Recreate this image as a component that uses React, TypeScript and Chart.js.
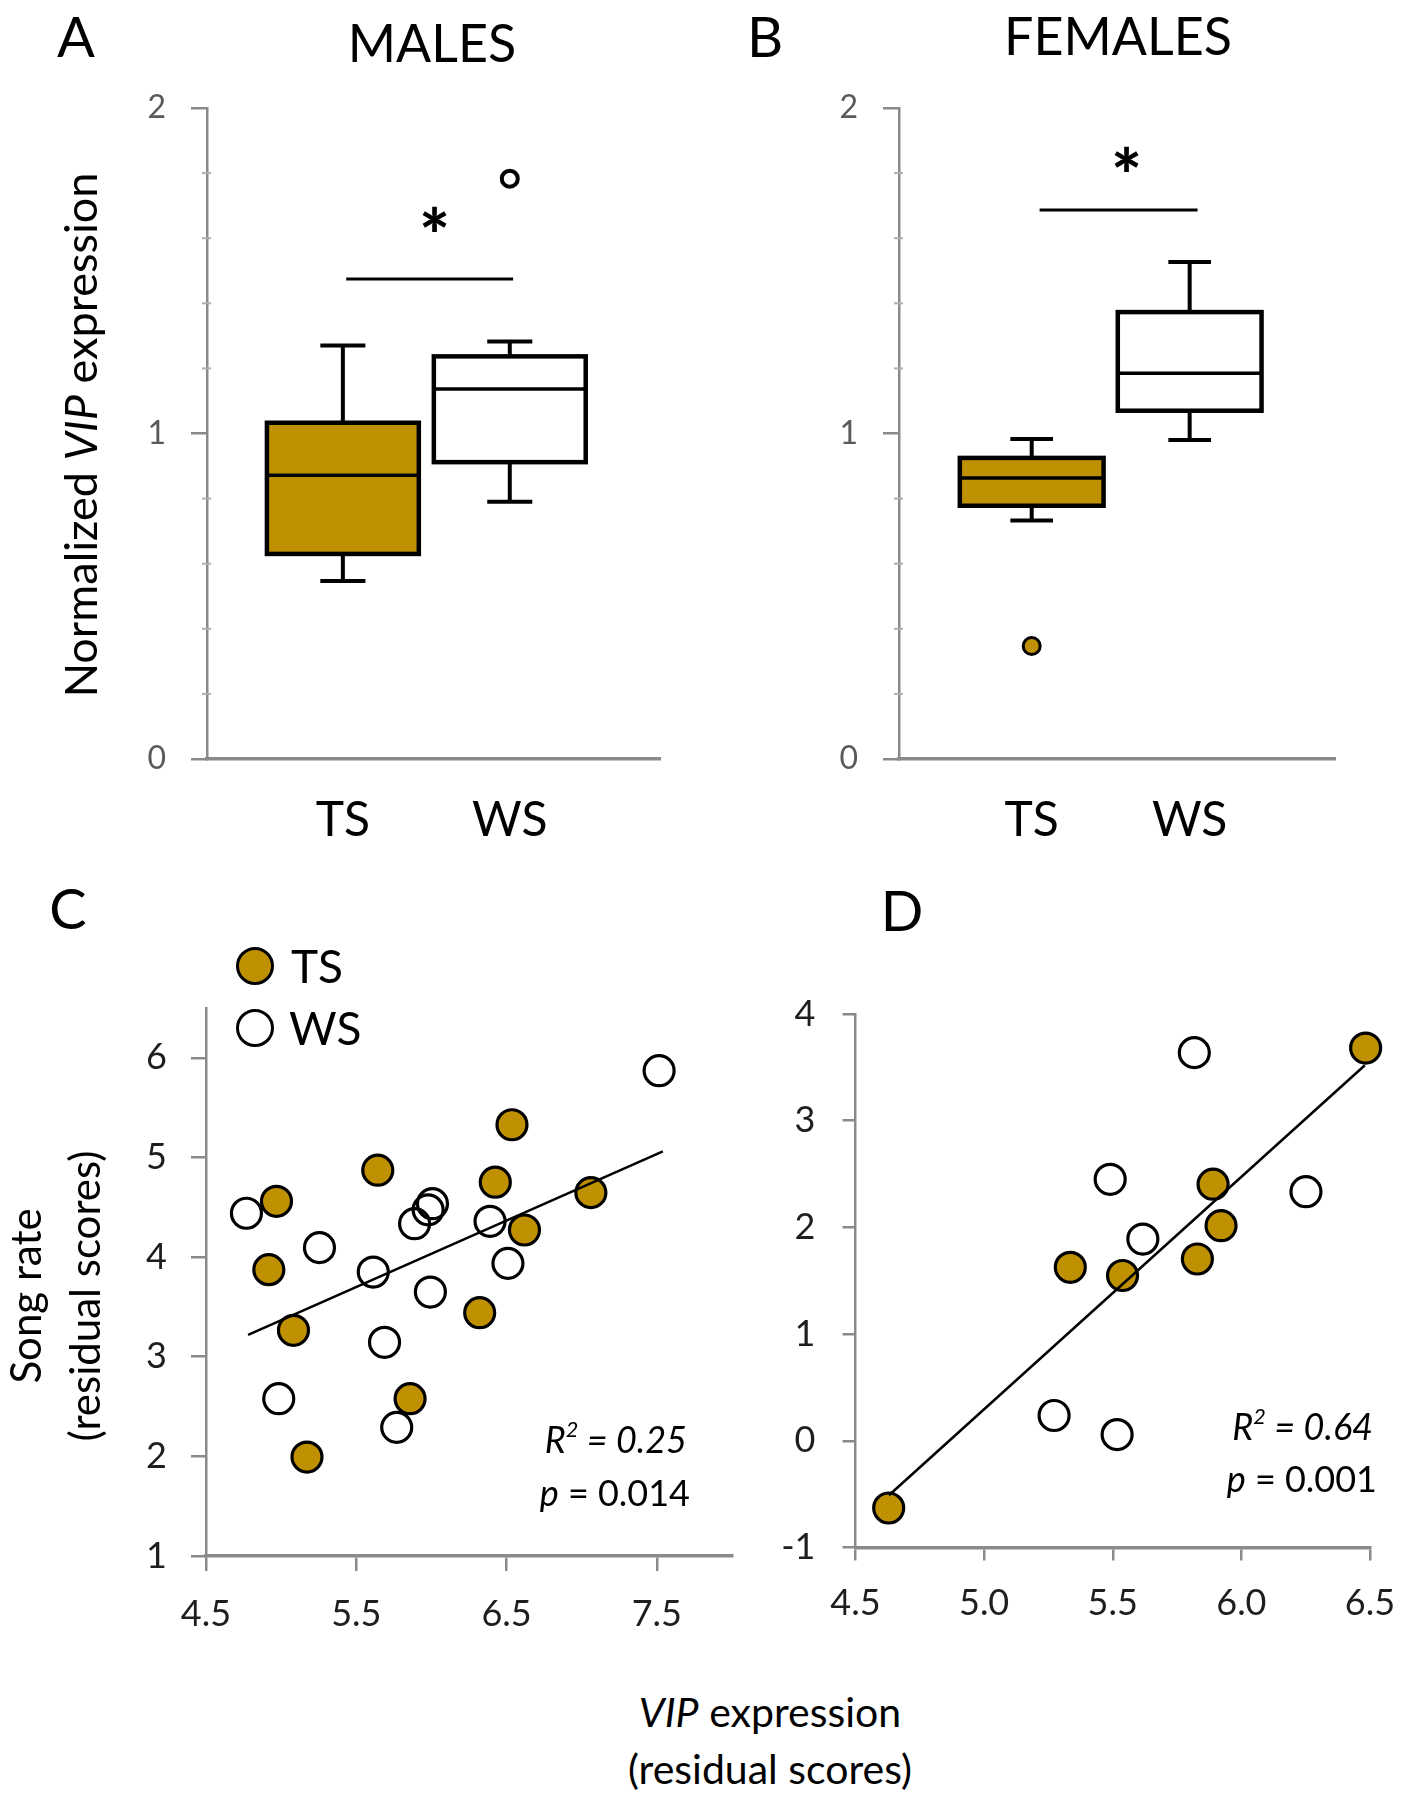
import React, { useEffect, useRef } from "react";
import { Chart, registerables } from "chart.js";

Chart.register(...registerables);

const FONT = "Lato, 'Open Sans', 'DejaVu Sans', sans-serif";
const GOLD = "#BF9000";
const AXIS_GRAY = "#8a8a8a";

// ---------------- Panels A & B : box plots ----------------
const boxCategories = ["TS", "WS"];
const boxYTicks = [0, 1, 2];
const boxMinorTicks = [0.2, 0.4, 0.6, 0.8, 1.2, 1.4, 1.6, 1.8];
// five-number summaries: [lower whisker, Q1, median, Q3, upper whisker]
const malesTS = [0.547, 0.63, 0.872, 1.033, 1.27];
const malesWS = [0.79, 0.912, 1.137, 1.237, 1.283];
const femalesTS = [0.733, 0.778, 0.863, 0.925, 0.983];
const femalesWS = [0.98, 1.07, 1.185, 1.373, 1.527];
// outliers
const malesOutlierTS: number[] = [];
const malesOutlierWS = [1.783];
const femalesOutlierTS = [0.347];
const femalesOutlierWS: number[] = [];
// significance bar: [bar height, star height]
const malesSignif = [1.475, 1.64];
const femalesSignif = [1.687, 1.825];

// ---------------- Panel C : males scatter ----------------
const cTsX = [4.969, 4.918, 5.082, 5.172, 5.643, 5.858, 6.321, 6.425, 6.536, 6.619, 7.061];
const cTsY = [4.56, 3.874, 3.265, 1.993, 4.872, 2.579, 3.442, 4.752, 5.328, 4.272, 4.647];
const cWsX = [4.769, 5.255, 4.984, 5.613, 5.688, 5.769, 5.888, 5.978, 6.007, 5.993, 6.39, 6.509, 7.515];
const cWsY = [4.44, 4.095, 2.579, 3.85, 3.145, 2.291, 4.335, 4.474, 4.536, 3.649, 4.359, 3.937, 5.871];
const cFitX = [4.78, 7.54];
const cFitY = [3.22, 5.06];
const cXTicks = [4.5, 5.5, 6.5, 7.5];
const cYTicks = [1, 2, 3, 4, 5, 6];

// ---------------- Panel D : females scatter ----------------
const dTsX = [4.629, 5.335, 5.538, 5.829, 5.89, 5.921, 6.483];
const dTsY = [-0.63, 1.626, 1.549, 1.704, 2.405, 2.016, 3.681];
const dWsX = [5.817, 5.49, 5.617, 6.251, 5.272, 5.517];
const dWsY = [3.638, 2.451, 1.891, 2.335, 0.237, 0.058];
const dFitX = [4.63, 6.48];
const dFitY = [-0.51, 3.52];
const dXTicks = [4.5, 5.0, 5.5, 6.0, 6.5];
const dYTicks = [-1, 0, 1, 2, 3, 4];

const BOX_HALF = 0.455;
const CAP_HALF = 0.135;

function boxConfig(p: any) {
  const { ts, ws, outTS, outWS, sig, sigX, starX, xMin, xMax, yAxisWidth, xAxisHeight, pad } = p;
  const groups = [ts, ws];
  const fills = [GOLD, "#ffffff"];
  const drawBoxes = {
    id: "drawBoxes",
    beforeDatasetsDraw(chart: any) {
      const ctx = chart.ctx;
      const x = chart.scales.x;
      const y = chart.scales.y;
      ctx.save();
      // minor ticks on the y axis
      ctx.strokeStyle = "#b0b0b0";
      ctx.lineWidth = 2;
      boxMinorTicks.forEach((v) => {
        const py = y.getPixelForValue(v);
        ctx.beginPath();
        ctx.moveTo(x.left - 5, py);
        ctx.lineTo(x.left + 4, py);
        ctx.stroke();
      });
      ctx.strokeStyle = "#000";
      groups.forEach((g: number[], i: number) => {
        const cx = x.getPixelForValue(i);
        const l = x.getPixelForValue(i - BOX_HALF);
        const r = x.getPixelForValue(i + BOX_HALF);
        const cl = x.getPixelForValue(i - CAP_HALF);
        const cr = x.getPixelForValue(i + CAP_HALF);
        const [wl, q1, md, q3, wh] = g.map((v) => y.getPixelForValue(v));
        ctx.lineWidth = 4;
        ctx.beginPath();
        ctx.moveTo(cx, q3); ctx.lineTo(cx, wh);
        ctx.moveTo(cl, wh); ctx.lineTo(cr, wh);
        ctx.moveTo(cx, q1); ctx.lineTo(cx, wl);
        ctx.moveTo(cl, wl); ctx.lineTo(cr, wl);
        ctx.stroke();
        ctx.fillStyle = fills[i];
        ctx.fillRect(l, q3, r - l, q1 - q3);
        ctx.lineWidth = 4.5;
        ctx.strokeRect(l, q3, r - l, q1 - q3);
        ctx.lineWidth = 3.5;
        ctx.beginPath();
        ctx.moveTo(l, md); ctx.lineTo(r, md);
        ctx.stroke();
      });
      const sy = y.getPixelForValue(sig[0]);
      ctx.lineWidth = 3;
      ctx.beginPath();
      ctx.moveTo(x.getPixelForValue(sigX[0]), sy);
      ctx.lineTo(x.getPixelForValue(sigX[1]), sy);
      ctx.stroke();
      ctx.fillStyle = "#000";
      ctx.font = `900 72px ${FONT}`;
      ctx.textAlign = "center";
      ctx.textBaseline = "middle";
      ctx.fillText("*", x.getPixelForValue(starX), y.getPixelForValue(sig[1]) + 14);
      ctx.restore();
    },
  };
  return {
    type: "scatter",
    data: {
      datasets: [
        { data: outTS.map((v: number) => ({ x: 0, y: v })), backgroundColor: GOLD, borderColor: "#000", borderWidth: 3, pointRadius: 8.5, clip: false },
        { data: outWS.map((v: number) => ({ x: 1, y: v })), backgroundColor: "#fff", borderColor: "#000", borderWidth: 4, pointRadius: 8, clip: false },
      ],
    },
    plugins: [drawBoxes],
    options: {
      responsive: false,
      animation: false,
      devicePixelRatio: 1,
      events: [],
      layout: { padding: pad },
      plugins: { legend: { display: false }, tooltip: { enabled: false } },
      scales: {
        x: {
          type: "linear",
          bounds: "data",
          min: xMin,
          max: xMax,
          afterBuildTicks: (s: any) => { s.ticks = boxCategories.map((_, i) => ({ value: i })); },
          ticks: {
            callback: (v: any) => boxCategories[Math.round(Number(v))],
            font: { family: FONT, size: 48 },
            color: "#000",
            padding: 33,
            maxRotation: 0,
            autoSkip: false,
          },
          grid: { display: false, drawTicks: false },
          border: { display: true, color: AXIS_GRAY, width: 3.5 },
          afterFit: (s: any) => { s.height = xAxisHeight; s.paddingLeft = 0; s.paddingRight = 0; },
        },
        y: {
          type: "linear",
          bounds: "data",
          min: 0,
          max: 2,
          afterBuildTicks: (s: any) => { s.ticks = boxYTicks.map((v) => ({ value: v })); },
          ticks: { font: { family: FONT, size: 32 }, color: "#5a5a5a", padding: 25, callback: (v: any) => String(v) },
          grid: { drawOnChartArea: false, drawTicks: true, tickLength: 16, color: AXIS_GRAY, lineWidth: 2.5 },
          border: { display: true, color: AXIS_GRAY, width: 2.5 },
          afterFit: (s: any) => { s.width = yAxisWidth; s.paddingTop = 0; s.paddingBottom = 0; },
        },
      },
    },
  };
}

function scatterConfig(p: any) {
  const { tsX, tsY, wsX, wsY, fitX, fitY, xTicks, yTicks, xMin, xMax, yMin, yMax, yAxisWidth, xAxisHeight, pad, yTickLen, xTickLen, yTickPad, xTickPad } = p;
  return {
    type: "scatter",
    data: {
      datasets: [
        {
          data: fitX.map((v: number, i: number) => ({ x: v, y: fitY[i] })),
          showLine: true,
          borderColor: "#000",
          borderWidth: 2.5,
          pointRadius: 0,
          fill: false,
          clip: false,
        },
        {
          data: tsX.map((v: number, i: number) => ({ x: v, y: tsY[i] })),
          backgroundColor: GOLD,
          borderColor: "#000",
          borderWidth: 3.2,
          pointRadius: 15,
          clip: false,
        },
        {
          data: wsX.map((v: number, i: number) => ({ x: v, y: wsY[i] })),
          backgroundColor: "rgba(255,255,255,0)",
          borderColor: "#000",
          borderWidth: 3.2,
          pointRadius: 15,
          clip: false,
        },
      ],
    },
    options: {
      responsive: false,
      animation: false,
      devicePixelRatio: 1,
      events: [],
      layout: { padding: pad },
      plugins: { legend: { display: false }, tooltip: { enabled: false } },
      scales: {
        x: {
          type: "linear",
          bounds: "data",
          min: xMin,
          max: xMax,
          afterBuildTicks: (s: any) => { s.ticks = xTicks.map((v: number) => ({ value: v })); },
          ticks: {
            callback: (v: any) => Number(v).toFixed(1),
            font: { family: FONT, size: 36 },
            color: "#1e1e1e",
            padding: xTickPad,
            maxRotation: 0,
            autoSkip: false,
          },
          grid: { drawOnChartArea: false, drawTicks: true, tickLength: xTickLen, color: AXIS_GRAY, lineWidth: 2.5 },
          border: { display: true, color: AXIS_GRAY, width: 3.5 },
          afterFit: (s: any) => { s.height = xAxisHeight; s.paddingLeft = 0; s.paddingRight = 0; },
        },
        y: {
          type: "linear",
          bounds: "data",
          min: yMin,
          max: yMax,
          afterBuildTicks: (s: any) => { s.ticks = yTicks.map((v: number) => ({ value: v })); },
          ticks: { font: { family: FONT, size: 36 }, color: "#1e1e1e", padding: yTickPad, callback: (v: any) => String(v) },
          grid: { drawOnChartArea: false, drawTicks: true, tickLength: yTickLen, color: AXIS_GRAY, lineWidth: 2.5 },
          border: { display: true, color: AXIS_GRAY, width: 2.5 },
          afterFit: (s: any) => { s.width = yAxisWidth; s.paddingTop = 0; s.paddingBottom = 0; },
        },
      },
    },
  };
}

function ChartCanvas({ left, top, width, height, make }: any) {
  const ref = useRef<HTMLCanvasElement>(null);
  useEffect(() => {
    const chart = new Chart(ref.current as HTMLCanvasElement, make());
    return () => chart.destroy();
  }, []);
  return (
    <canvas
      ref={ref}
      width={width}
      height={height}
      style={{ position: "absolute", left, top, width, height }}
    />
  );
}

function Txt({ x, y, size, children, align = "center", rotate = false, weight = 400 }: any) {
  let transform = "translate(-50%,-50%)";
  if (rotate) transform = "translate(-50%,-50%) rotate(-90deg)";
  else if (align === "right") transform = "translate(-100%,-50%)";
  else if (align === "left") transform = "translate(0,-50%)";
  return (
    <div
      style={{
        position: "absolute",
        left: x,
        top: y,
        transform,
        fontSize: size,
        lineHeight: 1,
        whiteSpace: "nowrap",
        fontWeight: weight,
        color: "#000",
      }}
    >
      {children}
    </div>
  );
}

function Dot({ x, y, d, fill }: any) {
  return (
    <div
      style={{
        position: "absolute",
        left: x - d / 2,
        top: y - d / 2,
        width: d,
        height: d,
        boxSizing: "border-box",
        borderRadius: "50%",
        border: "3.5px solid #000",
        background: fill,
      }}
    />
  );
}

const sup = { fontSize: "0.6em", verticalAlign: "0.75em", lineHeight: 0 };

export default function App() {
  return (
    <div
      style={{
        position: "absolute",
        left: 0,
        top: 0,
        width: 1404,
        height: 1800,
        overflow: "hidden",
        background: "#fff",
        fontFamily: FONT,
      }}
    >
      <ChartCanvas
        left={0}
        top={0}
        width={702}
        height={880}
        make={() =>
          boxConfig({
            ts: malesTS, ws: malesWS, outTS: malesOutlierTS, outWS: malesOutlierWS,
            sig: malesSignif, sigX: [0.02, 1.02], starX: 0.55,
            xMin: -0.814, xMax: 1.9, yAxisWidth: 207, xAxisHeight: 100,
            pad: { left: 0, top: 108, right: 42, bottom: 21 },
          })
        }
      />
      <ChartCanvas
        left={702}
        top={0}
        width={702}
        height={880}
        make={() =>
          boxConfig({
            ts: femalesTS, ws: femalesWS, outTS: femalesOutlierTS, outWS: femalesOutlierWS,
            sig: femalesSignif, sigX: [0.05, 1.05], starX: 0.6,
            xMin: -0.84, xMax: 1.92, yAxisWidth: 197, xAxisHeight: 100,
            pad: { left: 0, top: 108, right: 69, bottom: 21 },
          })
        }
      />
      <ChartCanvas
        left={0}
        top={890}
        width={760}
        height={770}
        make={() =>
          scatterConfig({
            tsX: cTsX, tsY: cTsY, wsX: cWsX, wsY: cWsY, fitX: cFitX, fitY: cFitY,
            xTicks: cXTicks, yTicks: cYTicks, xMin: 4.5, xMax: 8.0, yMin: 1, yMax: 6.5,
            yAxisWidth: 206, xAxisHeight: 80, pad: { left: 0, top: 118, right: 28, bottom: 24 },
            yTickLen: 15, xTickLen: 15, yTickPad: 24, xTickPad: 22,
          })
        }
      />
      <ChartCanvas
        left={702}
        top={890}
        width={702}
        height={770}
        make={() =>
          scatterConfig({
            tsX: dTsX, tsY: dTsY, wsX: dWsX, wsY: dWsY, fitX: dFitX, fitY: dFitY,
            xTicks: dXTicks, yTicks: dYTicks, xMin: 4.5, xMax: 6.5, yMin: -1, yMax: 4,
            yAxisWidth: 153.5, xAxisHeight: 80, pad: { left: 0, top: 124, right: 34, bottom: 32.5 },
            yTickLen: 13, xTickLen: 13, yTickPad: 27, xTickPad: 21,
          })
        }
      />

      {/* panel letters and titles */}
      <Txt x={76} y={36} size={56}>A</Txt>
      <Txt x={432} y={42} size={52}>MALES</Txt>
      <Txt x={765} y={36} size={56}>B</Txt>
      <Txt x={1118} y={35} size={52}>FEMALES</Txt>
      <Txt x={68} y={908} size={56}>C</Txt>
      <Txt x={902} y={910} size={56}>D</Txt>

      {/* y title A */}
      <Txt x={80} y={435} size={45} rotate>
        Normalized <i>VIP</i> expression
      </Txt>

      {/* legend C */}
      <Dot x={255} y={966} d={38} fill={GOLD} />
      <Txt x={291} y={966} size={46} align="left">TS</Txt>
      <Dot x={255} y={1028} d={38} fill="#fff" />
      <Txt x={289} y={1028} size={46} align="left">WS</Txt>

      {/* y title C */}
      <Txt x={25} y={1296} size={42} rotate>Song rate</Txt>
      <Txt x={84} y={1296} size={42} rotate>(residual scores)</Txt>

      {/* stats */}
      <Txt x={687} y={1439} size={36} align="right">
        <i>R<span style={sup}>2</span> = 0.25</i>
      </Txt>
      <Txt x={690} y={1492} size={36} align="right">
        <i>p</i> = 0.014
      </Txt>
      <Txt x={1373} y={1426} size={36} align="right">
        <i>R<span style={sup}>2</span> = 0.64</i>
      </Txt>
      <Txt x={1377} y={1478} size={36} align="right">
        <i>p</i> = 0.001
      </Txt>

      {/* bottom shared x title */}
      <Txt x={770} y={1711} size={41}>
        <i>VIP</i> expression
      </Txt>
      <Txt x={770} y={1768} size={41}>(residual scores)</Txt>
    </div>
  );
}
